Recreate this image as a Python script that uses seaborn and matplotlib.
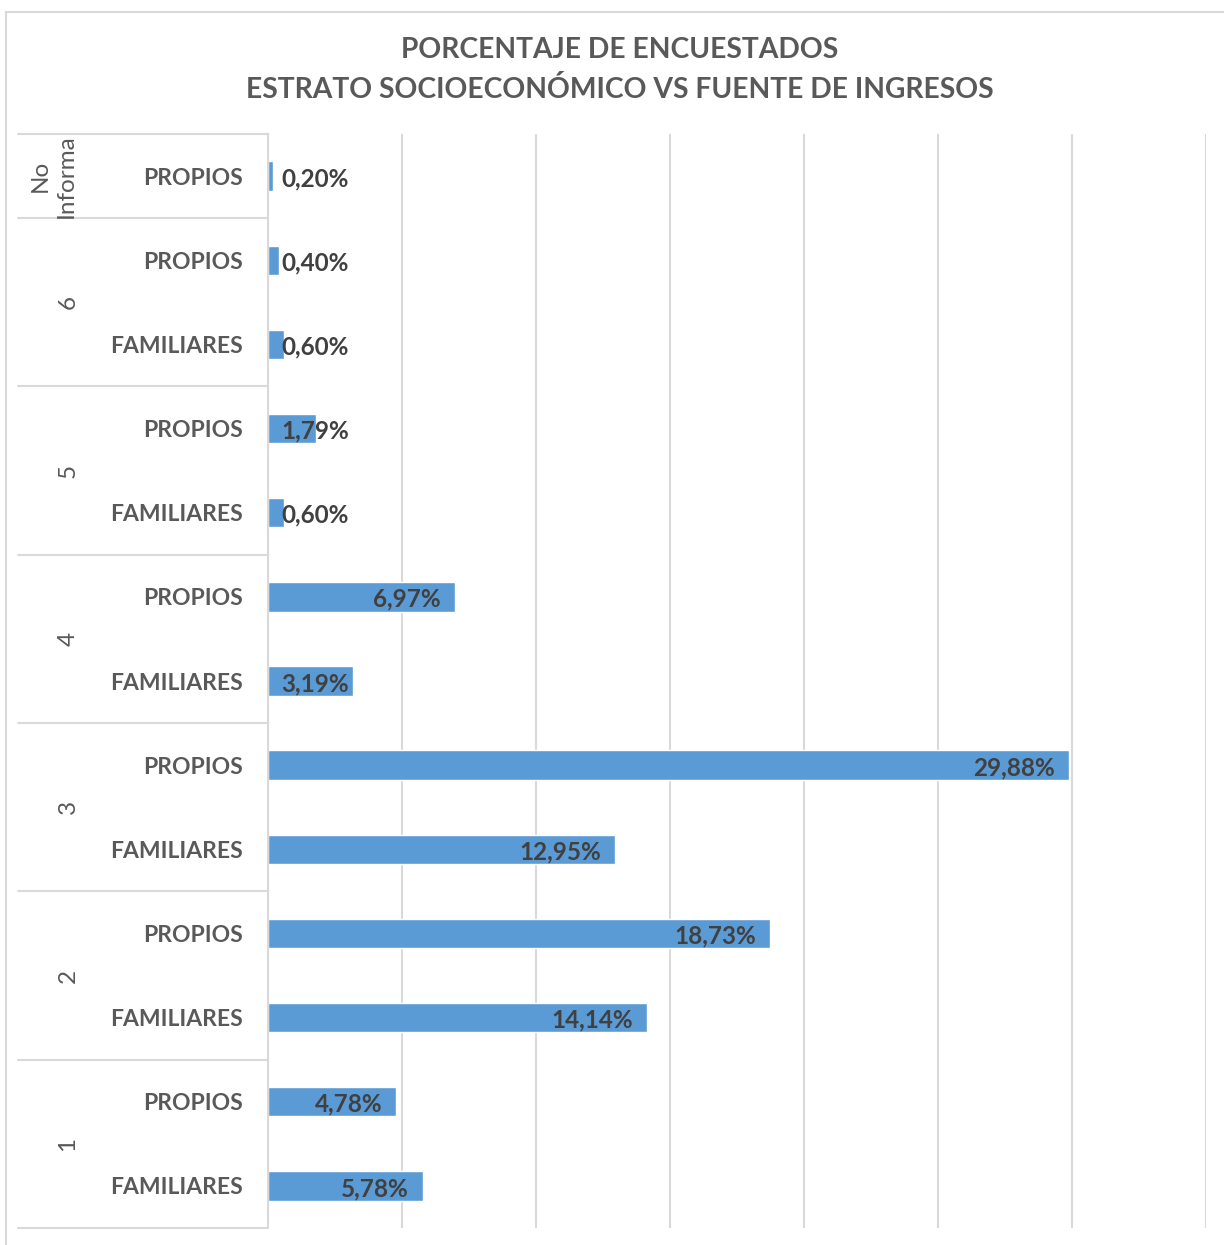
import numpy as np
import pandas as pd
import matplotlib.pyplot as plt
import seaborn as sns
from matplotlib.transforms import blended_transform_factory

# data, top to bottom as in the reference
estrato = ["No\nInforma", "6", "6", "5", "5", "4", "4", "3", "3", "2", "2", "1", "1"]
fuente = ["PROPIOS", "PROPIOS", "FAMILIARES", "PROPIOS", "FAMILIARES", "PROPIOS",
          "FAMILIARES", "PROPIOS", "FAMILIARES", "PROPIOS", "FAMILIARES", "PROPIOS",
          "FAMILIARES"]
porcentaje = [0.20, 0.40, 0.60, 1.79, 0.60, 6.97, 3.19, 29.88, 12.95, 18.73, 14.14, 4.78, 5.78]
grupos = ["No\nInforma", "6", "5", "4", "3", "2", "1"]

GRAY = "#595959"
GRID = "#D9D9D9"
BLUE = "#5B9BD5"

sns.set_theme(style="white")
plt.rcParams["font.family"] = ["Lato", "DejaVu Sans"]

df = pd.DataFrame({"estrato": estrato, "fuente": fuente, "pct": porcentaje})
df["key"] = [f"{e}|{f}|{i}" for i, (e, f) in enumerate(zip(estrato, fuente))]

fig = plt.figure(figsize=(12.24, 12.45), dpi=100)
ax = fig.add_axes([268 / 1224, 1 - 1228 / 1245, (1206 - 268) / 1224, (1228 - 134) / 1245])

sns.barplot(data=df, y="key", x="pct", orient="h", color=BLUE, width=0.35,
            saturation=1, ax=ax, order=df["key"])

ax.set_xlim(0, 35)
ax.set_ylim(len(df) - 0.5, -0.5)
ax.set_xticks(np.arange(0, 36, 5))
ax.set_xticklabels([])
ax.grid(axis="x", color=GRID, linewidth=1.5)
ax.set_axisbelow(True)
ax.tick_params(axis="both", length=0)
ax.tick_params(axis="y", pad=18)
ax.set_yticks(range(len(df)))
ax.set_yticklabels(fuente, fontsize=16.5, fontweight="bold", color=GRAY)
ax.set_xlabel("")
ax.set_ylabel("")
for s in ["top", "right", "bottom"]:
    ax.spines[s].set_visible(False)
ax.spines["left"].set_color(GRID)
ax.spines["left"].set_linewidth(1.5)

# data labels, inside end (clamped like Excel)
for i, v in enumerate(porcentaje):
    xr = max(v - 0.52, 3.02)
    ax.text(xr, i + 0.03, f"{v:.2f}%".replace(".", ","), ha="right", va="center",
            fontsize=17.5, fontweight="bold", color="#404040")

# multi-level category axis
tr = blended_transform_factory(ax.transAxes, ax.transData)
x_sep = (18 - 268) / (1206 - 268)
x_grp = (68 - 268) / (1206 - 268)
bounds = [-0.5]
pos = 0
for g in grupos:
    n = estrato.count(g)
    centro = pos + (n - 1) / 2
    ax.text(x_grp if g != "No\nInforma" else (53 - 268) / (1206 - 268), centro, g,
            transform=tr, rotation=90, ha="center", va="center", fontsize=17.5,
            color=GRAY, linespacing=1.3)
    pos += n
    bounds.append(pos - 0.5)
for b in bounds:
    ax.plot([x_sep, 0], [b, b], transform=tr, color=GRID, linewidth=1.5, clip_on=False)

# chart frame and title
fig.add_artist(plt.Line2D([6 / 1224, 1.0], [1 - 12 / 1245] * 2, color=GRID, linewidth=1.5))
fig.add_artist(plt.Line2D([6 / 1224] * 2, [0.0, 1 - 12 / 1245], color=GRID, linewidth=1.5))
fig.text(620 / 1224, 1 - 70 / 1245,
         "PORCENTAJE DE ENCUESTADOS\nESTRATO SOCIOECONÓMICO VS FUENTE DE INGRESOS",
         ha="center", va="center", fontsize=20.3, fontweight="bold", color=GRAY,
         linespacing=1.6)

fig.savefig("out.png", dpi=100, facecolor="white")
